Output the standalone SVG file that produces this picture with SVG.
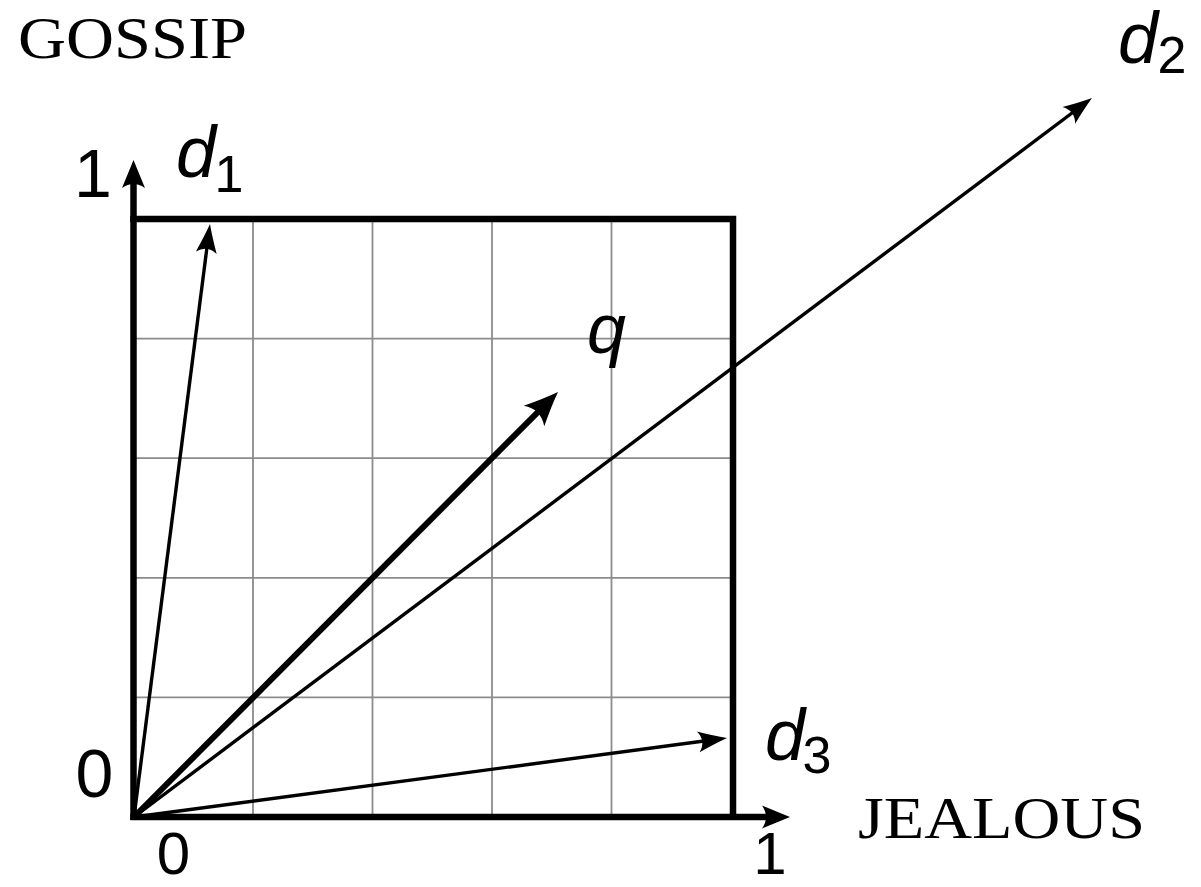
<svg xmlns="http://www.w3.org/2000/svg" width="1201" height="887" viewBox="0 0 1201 887">
<style>
.grid{stroke:#8c8c8c;stroke-width:1.8;fill:none}
.frame{stroke:#000;stroke-width:6.5;fill:none}
.axis{stroke:#000;stroke-width:6.5;fill:none}
.vec{stroke:#000;stroke-width:3.4;fill:none}
.qvec{stroke:#000;stroke-width:6;fill:none}
.word{font-family:"Liberation Serif",serif;font-size:60px;fill:#000}
.num{font-family:"Liberation Sans",sans-serif;font-size:68px;fill:#000;text-anchor:middle}
.num.low{font-size:60px}
.var{font-family:"Liberation Sans",sans-serif;font-style:italic;font-size:72px;fill:#000}
.var.q{font-size:70px}
.sub{font-family:"Liberation Sans",sans-serif;font-size:52px;fill:#000;text-anchor:middle}
</style>
<defs>
<marker id="thin" markerUnits="userSpaceOnUse" viewBox="-34 -16 42 32" markerWidth="42" markerHeight="32" refX="-10" refY="0" orient="auto">
<path d="M0,0 Q-13,-4 -29,-10.5 Q-21,0 -29,10.5 Q-13,4 0,0 Z" fill="#000"/>
</marker>
<marker id="thick" markerUnits="userSpaceOnUse" viewBox="-40 -20 48 40" markerWidth="48" markerHeight="40" refX="-14" refY="0" orient="auto">
<path d="M0,0 Q-14,-5 -34,-14.5 Q-24,0 -34,14.5 Q-14,5 0,0 Z" fill="#000"/>
</marker>
<marker id="ax" markerUnits="userSpaceOnUse" viewBox="-32 -16 40 32" markerWidth="40" markerHeight="32" refX="-12" refY="0" orient="auto">
<path d="M0,0 Q-11,-4.5 -28,-11.5 Q-20,0 -28,11.5 Q-11,4.5 0,0 Z" fill="#000"/>
</marker>
</defs>
<g id="grid">
<path class="grid" d="M253,219V817M372.5,219V817M492,219V817M611.5,219V817M133.5,697.4H733M133.5,577.8H733M133.5,458.2H733M133.5,338.6H733"/>
</g>
<g id="frame">
<path class="frame" d="M130.25,219H733V817"/>
</g>
<g id="axes">
<line class="axis" x1="133.5" y1="820" x2="133.5" y2="172" marker-end="url(#ax)"/>
<line class="axis" x1="130.25" y1="817" x2="778" y2="817" marker-end="url(#ax)"/>
</g>
<g id="connectors">
<line id="v-d1" class="vec" x1="134" y1="817" x2="208.7" y2="233.9" marker-end="url(#thin)"/>
<line id="v-d2" class="vec" x1="134" y1="817" x2="1084" y2="104" marker-end="url(#thin)"/>
<line id="v-d3" class="vec" x1="134" y1="817" x2="717.1" y2="739.3" marker-end="url(#thin)"/>
<line id="v-q" class="qvec" x1="134" y1="817" x2="548.1" y2="401.9" marker-end="url(#thick)"/>
</g>
<g id="label-gossip"><text class="word" x="18" y="58" textLength="229" lengthAdjust="spacingAndGlyphs">GOSSIP</text></g>
<g id="label-jealous"><text class="word" x="858" y="838" textLength="287" lengthAdjust="spacingAndGlyphs">JEALOUS</text></g>
<g id="ticks">
<text class="num" x="93" y="197">1</text>
<text class="num" x="94.5" y="797">0</text>
<text class="num low" x="173.5" y="874">0</text>
<text class="num low" x="770" y="874">1</text>
</g>
<g id="label-d1"><text class="var" x="176" y="177">d</text><text class="sub" x="229" y="192">1</text></g>
<g id="label-d2"><text class="var" x="1118" y="63">d</text><text class="sub" x="1172" y="73">2</text></g>
<g id="label-d3"><text class="var" x="765" y="760">d</text><text class="sub" x="817" y="773">3</text></g>
<g id="label-q"><text class="var q" x="587" y="353">q</text></g>
</svg>
